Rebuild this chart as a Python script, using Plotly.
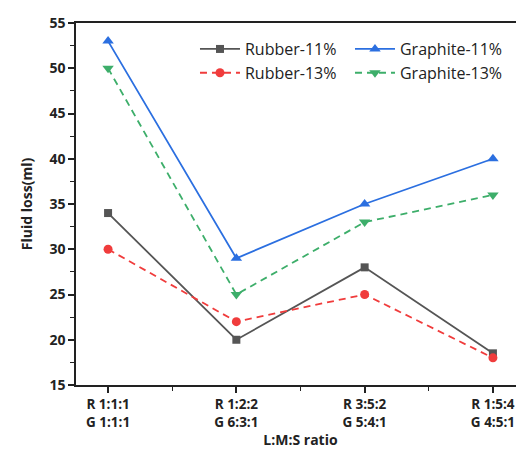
import plotly.graph_objects as go

categories = ["R 1:1:1<br>G 1:1:1", "R 1:2:2<br>G 6:3:1", "R 3:5:2<br>G 5:4:1", "R 1:5:4<br>G 4:5:1"]
rubber_11 = [34, 20, 28, 18.5]
graphite_11 = [53, 29, 35, 40]
rubber_13 = [30, 22, 25, 18]
graphite_13 = [50, 25, 33, 36]
y_ticks = [15, 20, 25, 30, 35, 40, 45, 50, 55]

xs = list(range(len(categories)))
fig = go.Figure()
fig.add_trace(go.Scatter(x=xs, y=rubber_11, name="Rubber-11%", mode="lines+markers",
                         line=dict(color="#555555", width=1.8),
                         marker=dict(symbol="square", size=8, color="#555555")))
fig.add_trace(go.Scatter(x=xs, y=graphite_11, name="Graphite-11%", mode="lines+markers",
                         line=dict(color="#2B6FE0", width=1.8),
                         marker=dict(symbol="triangle-up", size=10, color="#2B6FE0")))
fig.add_trace(go.Scatter(x=xs, y=rubber_13, name="Rubber-13%", mode="lines+markers",
                         line=dict(color="#F03C3C", width=1.8, dash="7px,5px"),
                         marker=dict(symbol="circle", size=9, color="#F03C3C")))
fig.add_trace(go.Scatter(x=xs, y=graphite_13, name="Graphite-13%", mode="lines+markers",
                         line=dict(color="#3DAE6A", width=1.8, dash="7px,5px"),
                         marker=dict(symbol="triangle-down", size=10, color="#3DAE6A")))

fig.update_layout(
    width=524, height=456,
    margin=dict(l=68, r=5, t=12, b=79),
    plot_bgcolor="white", paper_bgcolor="white",
    font=dict(family="Open Sans, sans-serif", color="#222222", size=13),
    showlegend=True,
    legend=dict(orientation="h", x=0.265, y=0.975, xanchor="left", yanchor="top",
                entrywidth=100, entrywidthmode="pixels", bgcolor="rgba(0,0,0,0)",
                font=dict(size=16, color="#222222"), tracegroupgap=0, itemwidth=40),
)
fig.update_xaxes(
    range=[-0.25, 3.25], tickvals=xs, ticktext=["<b>" + c.replace("<br>", "</b><br><b>") + "</b>" for c in categories],
    showline=True, linecolor="#222222", linewidth=1.5, mirror=True,
    ticks="outside", ticklen=6, tickwidth=1.5, tickcolor="#222222",
    minor=dict(tickvals=[0.5, 1.5, 2.5], ticks="outside", ticklen=4, tickwidth=1.2, tickcolor="#222222"),
    showgrid=False, zeroline=False,
    title=dict(text="<b>L:M:S ratio</b>", font=dict(size=14), standoff=6),
    tickfont=dict(size=13.5),
)
fig.update_yaxes(
    range=[15, 55], tickvals=y_ticks, ticktext=["<b>%d</b>" % v for v in y_ticks],
    showline=True, linecolor="#222222", linewidth=1.5, mirror=True,
    ticks="outside", ticklen=6, tickwidth=1.5, tickcolor="#222222",
    minor=dict(dtick=2.5, ticks="outside", ticklen=4, tickwidth=1.2, tickcolor="#222222"),
    showgrid=False, zeroline=False,
    title=dict(text="<b>Fluid loss(ml)</b>", font=dict(size=14), standoff=14),
    tickfont=dict(size=14),
)
fig.write_html("out.html")
